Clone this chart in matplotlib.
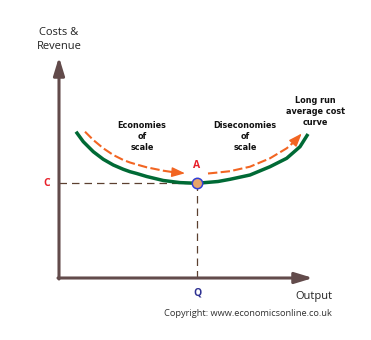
import matplotlib
matplotlib.use("Agg")
import matplotlib.pyplot as plt
from matplotlib import font_manager
from matplotlib.font_manager import FontProperties

# long run average cost curve (x, y in drawing units, y grows downward)
lrac_x = [76, 83.3, 93.3, 103.3, 113.3, 123.3, 130, 136.7, 146.7, 163.3, 180,
          197, 218, 230, 250, 270, 286.7, 300, 308]
lrac_y = [131.7, 141.7, 151.7, 159.3, 165, 169.3, 171.7, 173.5, 176.5, 180.5,
          182.6, 183.3, 181.5, 179.3, 175, 166.7, 158.3, 146.7, 134]

# economies of scale arrow (last point is the arrow tip)
eos_x = [85, 93.3, 103.3, 113.3, 123.3, 130, 136.7, 146.7, 163.3, 174, 185]
eos_y = [131.7, 140, 148.3, 155, 160, 162.5, 164.5, 167.3, 170.7, 172.3, 173.3]

# diseconomies of scale arrow (last point is the arrow tip)
dos_x = [208, 218, 230, 250, 270, 286.7, 294.5, 301.7]
dos_y = [173.5, 172.5, 171.2, 166.7, 158.3, 148.3, 141.5, 133.5]

# equilibrium point A
q_val = 197
c_val = 183.3

origin = (59, 278)
y_top = 57
x_right = 313


def pick_narrow_bold(size):
    cands = []
    for f in font_manager.fontManager.ttflist:
        fn = f.fname.lower()
        if ("narrow" in fn or "condensed" in fn) and "bold" in fn \
                and "italic" not in fn and "oblique" not in fn:
            rank = 0 if "liberation" in fn else (1 if "dejavusans" in fn.replace("-", "") else 2)
            if "extra" in fn or "semi" in fn:
                rank += 5
            cands.append((rank, f.fname))
    if cands:
        cands.sort()
        return FontProperties(fname=cands[0][1], size=size)
    return FontProperties(family="Lato", weight="bold", size=size)


names = {f.name for f in font_manager.fontManager.ttflist}
regular = "Open Sans" if "Open Sans" in names else "DejaVu Sans"
bold_narrow = pick_narrow_bold(6.5)

fig = plt.figure(figsize=(3.71, 3.40), dpi=100)
ax = fig.add_axes([0, 0, 1, 1])
ax.set_xlim(0, 371)
ax.set_ylim(340, 0)
ax.axis("off")

axis_col = "#624b4b"
head = "-|>,head_length=1.08,head_width=0.33"
ax.annotate("", xy=(origin[0], y_top), xytext=(origin[0], origin[1] + 1),
            arrowprops=dict(arrowstyle=head, color=axis_col, lw=2.2,
                            mutation_scale=10, shrinkA=0, shrinkB=0))
ax.annotate("", xy=(x_right, origin[1]), xytext=(origin[0] - 1, origin[1]),
            arrowprops=dict(arrowstyle=head, color=axis_col, lw=2.2,
                            mutation_scale=10, shrinkA=0, shrinkB=0))

# guide lines to C and Q
guide = "#5c4030"
ax.plot([origin[0], q_val], [c_val, c_val], color=guide, lw=0.9, dashes=(6, 4))
ax.plot([q_val, q_val], [c_val, origin[1]], color=guide, lw=0.9, dashes=(6, 4))

ax.plot(lrac_x, lrac_y, color="#006a35", lw=2.5, solid_capstyle="butt",
        solid_joinstyle="round")

orange = "#f26522"
for xs, ys in [(eos_x, eos_y), (dos_x, dos_y)]:
    ax.plot(xs[:-1], ys[:-1], color=orange, lw=1.5, dashes=(4.5, 1.6))
    ax.annotate("", xy=(xs[-1], ys[-1]), xytext=(xs[-2], ys[-2]),
                arrowprops=dict(arrowstyle="-|>,head_length=0.8,head_width=0.3",
                                color=orange, lw=1.0, mutation_scale=10,
                                shrinkA=0, shrinkB=0))

ax.plot([q_val], [c_val], "o", ms=7.5, mfc="#e8a46a", mec="#3340d6", mew=1.1)

red = "#e8202a"
ax.text(47, c_val + 0.5, "C", color=red, fontsize=7.5, fontweight="bold",
        ha="center", va="center", family=regular)
ax.text(q_val, 166, "A", color=red, fontsize=7.5, fontweight="bold",
        ha="center", va="center", family=regular)
ax.text(q_val, 293, "Q", color="#2e3192", fontsize=7.5, fontweight="bold",
        ha="center", va="center", family=regular)

txt = "#222222"
ax.text(59, 39.5, "Costs &\nRevenue", color=txt, fontsize=8, ha="center",
        va="center", linespacing=1.3, family=regular)
ax.text(314, 297, "Output", color=txt, fontsize=8, ha="center", va="center",
        family=regular)
ax.text(248, 314, "Copyright: www.economicsonline.co.uk", color="#333333",
        fontsize=6.7, ha="center", va="center", family=regular)

for x, y, s in [(142, 136.5, "Economies\nof\nscale"),
                (245, 136.5, "Diseconomies\nof\nscale"),
                (315, 111.5, "Long run\naverage cost\ncurve")]:
    ax.text(x, y, s, color="#111111", fontproperties=bold_narrow,
            ha="center", va="center", linespacing=1.35)

fig.savefig("out.png", dpi=100)
